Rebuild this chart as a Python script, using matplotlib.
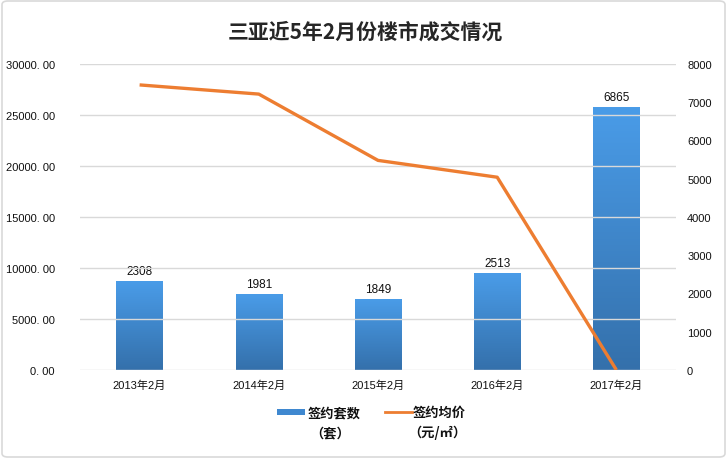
import matplotlib
matplotlib.use("Agg")
import matplotlib.pyplot as plt
import numpy as np
from matplotlib.patches import FancyBboxPatch, Rectangle
from matplotlib.lines import Line2D
from matplotlib.colors import LinearSegmentedColormap

plt.rcParams['font.family'] = ['Liberation Sans', 'Noto Sans CJK SC', 'DejaVu Sans']

categories = ["2013年2月", "2014年2月", "2015年2月", "2016年2月", "2017年2月"]
units_sold = [2308, 1981, 1849, 2513, 6865]
avg_price = [27950, 27050, 20550, 18900, 0]
left_ticks = [0, 5000, 10000, 15000, 20000, 25000, 30000]
right_ticks = [0, 1000, 2000, 3000, 4000, 5000, 6000, 7000, 8000]

fig = plt.figure(figsize=(7.27, 4.6), dpi=100)
W, H = 727, 460
# outer border
fig.patches.append(FancyBboxPatch((2/W, 2/H), 1-4/W, 1-4/H, boxstyle="round,pad=0,rounding_size=0.008",
                                  transform=fig.transFigure, fill=False, edgecolor="#d9d9d9", linewidth=1.2))

ax_left = fig.add_axes([80/W, 1-371/H, 596/W, 306/H])
ax_right = ax_left.twinx()

x = np.arange(len(categories))
ax_right.set_ylim(0, 8000)
ax_left.set_ylim(0, 30000)
ax_left.set_xlim(-0.5, len(categories)-0.5)

# grid
for t in left_ticks:
    ax_left.axhline(t, color="#d9d9d9", linewidth=1, zorder=0)

cmap = LinearSegmentedColormap.from_list("bar", ["#3470ab", "#4a9ce8"])
grad = np.linspace(0, 1, 256).reshape(-1, 1)
bw = 0.39
for xi, v in zip(x, units_sold):
    ax_right.imshow(grad, extent=(xi-bw/2, xi+bw/2, 0, v), origin="lower", cmap=cmap,
                    aspect="auto", zorder=2)
    ax_right.text(xi, v + 120, str(v), ha="center", va="bottom", fontsize=8.5, color="#111111")
ax_right.set_xlim(-0.5, len(categories)-0.5)
ax_right.set_ylim(0, 8000)

ax_left.set_zorder(ax_right.get_zorder()+1)
ax_left.patch.set_visible(False)
ax_left.plot(x, avg_price, color="#ed7d31", linewidth=2.4, zorder=3, solid_capstyle="butt")

ax_left.set_yticks(left_ticks)
ax_left.set_yticklabels([f"{t:.2f}".replace(".", ". ") for t in left_ticks], fontsize=8)
ax_right.set_yticks(right_ticks)
ax_right.set_yticklabels([str(t) for t in right_ticks], fontsize=8)
ax_left.set_xticks(x)
ax_left.set_xticklabels(categories, fontsize=8)
for a in (ax_left, ax_right):
    a.tick_params(length=0, colors="#111111")
    for s in a.spines.values():
        s.set_visible(False)
ax_left.tick_params(axis='y', pad=18)
ax_left.tick_params(axis='x', pad=7)
ax_right.tick_params(axis='y', pad=8)

fig.text(365/W, 1-32/H, "三亚近5年2月份楼市成交情况", ha="center", va="center",
         fontsize=15, fontweight="bold", color="#262626", family=['Noto Sans CJK SC'])

# legend
cjk = ['Noto Sans CJK SC']
fig.patches.append(Rectangle((277/W, 1-416/H), 28/W, 6/H, transform=fig.transFigure,
                             facecolor="#3f88d0", edgecolor="none"))
fig.text(308/W, 1-413/H, "签约套数", ha="left", va="center", fontsize=9.5, fontweight="bold",
         color="#111111", family=cjk)
fig.text(310/W, 1-433/H, "（套）", ha="left", va="center", fontsize=9.5, fontweight="bold",
         color="#111111", family=cjk)
fig.lines.append(Line2D([385/W, 412/W], [1-413/H, 1-413/H], transform=fig.transFigure,
                        color="#ed7d31", linewidth=2))
fig.text(413/W, 1-413/H, "签约均价", ha="left", va="center", fontsize=9.5, fontweight="bold",
         color="#111111", family=cjk)
fig.text(408/W, 1-433/H, "（元/㎡）", ha="left", va="center", fontsize=9.5, fontweight="bold",
         color="#111111", family=cjk)

fig.savefig("out.png", dpi=100)
